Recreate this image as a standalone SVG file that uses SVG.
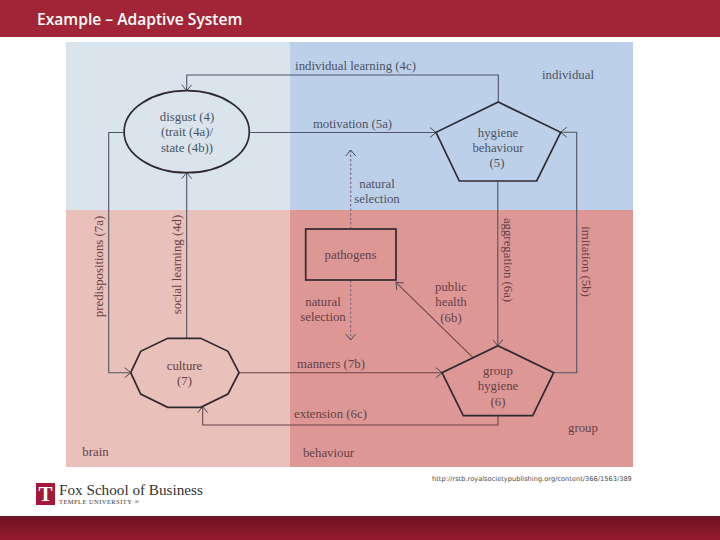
<svg xmlns="http://www.w3.org/2000/svg" width="720" height="540" viewBox="0 0 720 540">
<style>
.lb{font-family:"Liberation Serif","Times New Roman",serif;font-size:12.8px;text-anchor:middle}
.bl{fill:#4d5362}
.rd{fill:#653f45}
.nd{fill:none;stroke:#2f2a30;stroke-width:1.7;stroke-linejoin:miter}
.cb{fill:none;stroke:#4e5566;stroke-width:1.1}
.cr{fill:none;stroke:#6d4549;stroke-width:1.1}
.ds{fill:none;stroke:#7b6a7c;stroke-width:1.1;stroke-dasharray:2.5 2}
</style>
<defs>
<marker id="a" markerUnits="userSpaceOnUse" markerWidth="14" markerHeight="14" refX="9" refY="7" orient="auto">
<path d="M3 2 L9 7 L3 12" fill="none" stroke="#4a4a58" stroke-width="1"/>
</marker>
<linearGradient id="ft" x1="0" y1="0" x2="0" y2="1">
<stop offset="0" stop-color="#6f1222"/><stop offset="1" stop-color="#931b2e"/>
</linearGradient>
</defs>
<rect width="720" height="540" fill="#fff"/>
<g id="header">
<rect width="720" height="37" fill="#a12537"/>
<text x="37" y="25" font-family="'Open Sans','Liberation Sans',sans-serif" font-size="15.6" font-weight="600" fill="#fff">Example – Adaptive System</text>
</g>
<g id="panels">
<rect x="66" y="42" width="224" height="168" fill="#d9e4ec"/>
<rect x="290" y="42" width="343" height="168" fill="#bcd0e9"/>
<rect x="66" y="210" width="224" height="257" fill="#eac0ba"/>
<rect x="290" y="210" width="343" height="257" fill="#dd9896"/>
</g>
<g id="connectors">
<path class="cb" d="M498.3 102V75H186.7V90.7" marker-end="url(#a)"/>
<path class="cb" d="M249.3 132.5H436" marker-end="url(#a)"/>
<path class="cb" d="M124 132.5H108.7V372.7H130.7" marker-end="url(#a)"/>
<path class="cb" d="M186.7 338.3V172.7" marker-end="url(#a)"/>
<path class="cb" d="M553.7 372.7H576.7V132.3H560.7" marker-end="url(#a)"/>
<path class="cb" d="M497.8 181V345.7" marker-end="url(#a)"/>
<path class="cr" d="M472.7 357.3L396 282.3" marker-end="url(#a)"/>
<path class="cr" d="M239 372.7H442" marker-end="url(#a)"/>
<path class="cr" d="M498 415.7V425H202.7V406.7" marker-end="url(#a)"/>
<path class="ds" d="M350.7 229V150" marker-end="url(#a)"/>
<path class="ds" d="M350.7 280V340" marker-end="url(#a)"/>
</g>
<g id="disgust">
<ellipse class="nd" cx="186.7" cy="131.7" rx="62.6" ry="41"/>
<text class="lb bl" x="187" y="121">disgust (4)</text>
<text class="lb bl" x="187" y="136">(trait (4a)/</text>
<text class="lb bl" x="187" y="152">state (4b))</text>
</g>
<g id="hygiene-behaviour">
<polygon class="nd" points="498.3,102 560.7,132.3 536.7,181 459.3,181 436,132.3"/>
<text class="lb bl" x="498" y="137">hygiene</text>
<text class="lb bl" x="498" y="152">behaviour</text>
<text class="lb bl" x="497" y="167">(5)</text>
</g>
<g id="pathogens">
<rect class="nd" x="305.7" y="229" width="90.3" height="51"/>
<text class="lb rd" x="350.5" y="259">pathogens</text>
</g>
<g id="culture">
<polygon class="nd" points="130.7,372.7 140.7,351.3 167.7,338.3 200.7,338.3 228,351.3 239,372.7 228,394 200.7,407.3 167.7,407.3 140.7,394"/>
<text class="lb rd" x="184.5" y="370">culture</text>
<text class="lb rd" x="184.5" y="385">(7)</text>
</g>
<g id="group-hygiene">
<polygon class="nd" points="498,345.7 553.7,372.7 532.7,415.7 463.3,415.7 442,372.7"/>
<text class="lb rd" x="498" y="375">group</text>
<text class="lb rd" x="498" y="390">hygiene</text>
<text class="lb rd" x="498" y="406">(6)</text>
</g>
<g id="labels">
<text class="lb bl" x="355.5" y="70">individual learning (4c)</text>
<text class="lb bl" x="352.5" y="128">motivation (5a)</text>
<text class="lb bl" x="568" y="79">individual</text>
<text class="lb bl" x="377" y="188">natural</text>
<text class="lb bl" x="377" y="203">selection</text>
<text class="lb rd" x="323" y="306">natural</text>
<text class="lb rd" x="323" y="321">selection</text>
<text class="lb rd" x="451" y="291">public</text>
<text class="lb rd" x="451" y="306">health</text>
<text class="lb rd" x="451" y="322">(6b)</text>
<text class="lb rd" x="331" y="368">manners (7b)</text>
<text class="lb rd" x="330.5" y="418">extension (6c)</text>
<text class="lb rd" x="95.5" y="456">brain</text>
<text class="lb rd" x="328.5" y="457">behaviour</text>
<text class="lb rd" x="583" y="432">group</text>
<text class="lb rd" transform="translate(103 266.5) rotate(-90)">predispositions (7a)</text>
<text class="lb rd" transform="translate(180.5 264.5) rotate(-90)">social learning (4d)</text>
<text class="lb rd" transform="translate(503.5 260) rotate(90)">aggregation (6a)</text>
<text class="lb rd" transform="translate(581.5 261.5) rotate(90)">imitation (5b)</text>
</g>
<g id="source">
<text x="432" y="481" font-family="'DejaVu Sans','Liberation Sans',sans-serif" font-size="6.6" letter-spacing=".03" fill="#4a4a4a">http://rstb.royalsocietypublishing.org/content/366/1563/389</text>
</g>
<g id="logo">
<rect x="36" y="483" width="19" height="22" fill="#a5173a"/>
<text x="45.5" y="501" font-family="'Liberation Serif',serif" font-size="21" font-weight="700" text-anchor="middle" fill="#fff">T</text>
<text x="59" y="495" font-family="'Liberation Serif',serif" font-size="15.2" fill="#333">Fox School of Business</text>
<text x="59" y="504" font-family="'Liberation Serif',serif" font-size="6.4" letter-spacing=".5" fill="#333">TEMPLE UNIVERSITY ®</text>
</g>
<g id="footer">
<rect y="516" width="720" height="24" fill="url(#ft)"/>
</g>
</svg>
